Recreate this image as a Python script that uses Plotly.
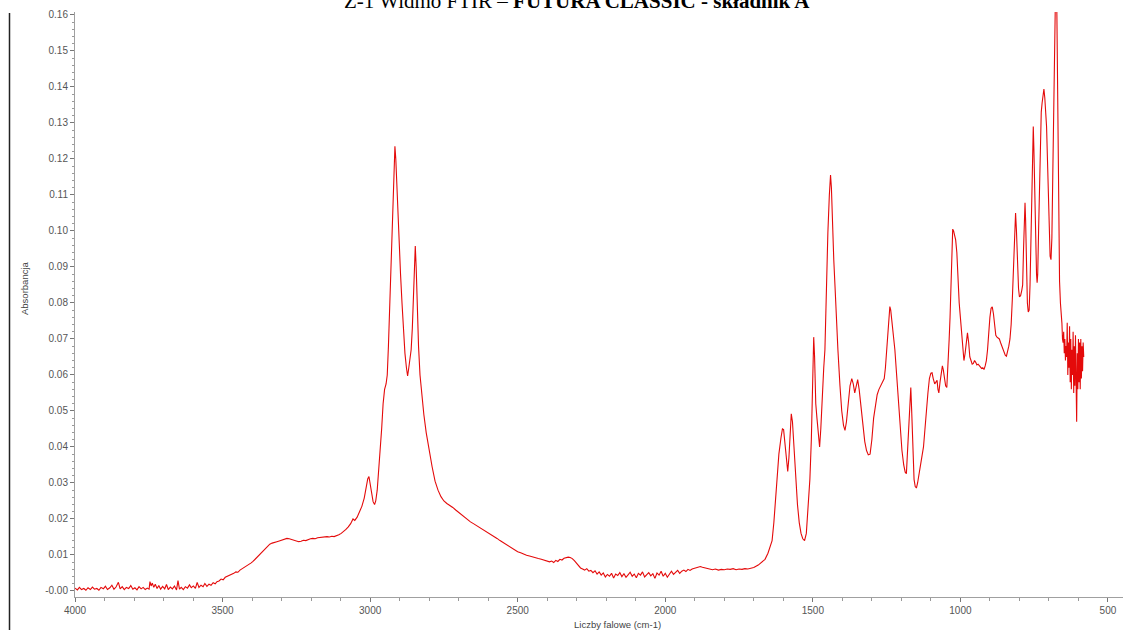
import plotly.graph_objects as go

# ---- data (wavenumber cm-1, absorbance) ----
wavenumber = [
    4000, 3992, 3985, 3978, 3970, 3963, 3956, 3948, 3941, 3934, 3926, 3919, 3912, 3904, 3897, 3890,
    3882, 3875, 3868, 3861, 3853, 3847, 3840, 3833, 3826, 3818, 3811, 3804, 3797, 3790, 3783, 3776,
    3769, 3762, 3755, 3749, 3746, 3742, 3738, 3733, 3728, 3722, 3716, 3710, 3703, 3696, 3690, 3684,
    3677, 3670, 3663, 3656, 3651, 3646, 3640, 3633, 3626, 3619, 3612, 3606, 3599, 3592, 3586, 3580,
    3573, 3566, 3560, 3553, 3546, 3539, 3532, 3525, 3519, 3512, 3505, 3498, 3491, 3485, 3478, 3470,
    3462, 3455, 3448, 3441, 3433, 3425, 3418, 3410, 3403, 3397, 3389, 3381, 3373, 3365, 3357, 3349,
    3340, 3332, 3324, 3316, 3308, 3299, 3290, 3282, 3274, 3266, 3258, 3250, 3242, 3234, 3226, 3218,
    3210, 3202, 3194, 3186, 3178, 3170, 3162, 3154, 3146, 3138, 3130, 3122, 3114, 3106, 3098, 3090,
    3082, 3074, 3066, 3058, 3052, 3044, 3036, 3028, 3020, 3013, 3008, 3004, 3000, 2995, 2990, 2985,
    2981, 2976, 2971, 2966, 2961, 2956, 2951, 2946, 2942, 2938, 2934, 2930, 2926, 2922, 2919, 2916,
    2913, 2910, 2906, 2902, 2897, 2892, 2887, 2882, 2877, 2873, 2869, 2865, 2861, 2857, 2853, 2850,
    2847, 2844, 2840, 2836, 2831, 2825, 2818, 2810, 2800, 2790, 2780, 2770, 2760, 2750, 2740, 2730,
    2720, 2710, 2700, 2690, 2680, 2670, 2660, 2650, 2640, 2630, 2620, 2610, 2600, 2590, 2580, 2570,
    2560, 2550, 2540, 2530, 2520, 2510, 2500, 2490, 2480, 2470, 2460, 2450, 2440, 2430, 2420, 2410,
    2400, 2392, 2385, 2378, 2371, 2364, 2357, 2350, 2343, 2336, 2329, 2322, 2315, 2308, 2301, 2294,
    2287, 2280, 2273, 2266, 2259, 2252, 2245, 2238, 2231, 2224, 2217, 2210, 2203, 2196, 2189, 2182,
    2175, 2168, 2161, 2154, 2147, 2140, 2133, 2126, 2119, 2112, 2105, 2098, 2091, 2084, 2077, 2070,
    2063, 2056, 2049, 2042, 2035, 2028, 2021, 2014, 2007, 2000, 1993, 1986, 1979, 1972, 1965, 1958,
    1951, 1944, 1937, 1930, 1923, 1916, 1909, 1902, 1895, 1888, 1881, 1874, 1867, 1860, 1850, 1840,
    1830, 1820, 1810, 1800, 1790, 1780, 1770, 1760, 1750, 1740, 1730, 1720, 1710, 1700, 1685, 1672,
    1662, 1652, 1645, 1638, 1632, 1627, 1621, 1615, 1608, 1603, 1599, 1595, 1590, 1585, 1581, 1577,
    1573, 1569, 1564, 1558, 1552, 1546, 1540, 1534, 1528, 1522, 1516, 1510, 1505, 1501, 1497, 1494,
    1490, 1486, 1482, 1477, 1473, 1468, 1463, 1459, 1454, 1449, 1444, 1440, 1437, 1433, 1429, 1425,
    1420, 1415, 1408, 1402, 1396, 1391, 1386, 1380, 1374, 1368, 1363, 1358, 1353, 1348, 1343, 1336,
    1330, 1324, 1318, 1312, 1306, 1300, 1294, 1288, 1282, 1276, 1270, 1264, 1258, 1254, 1250, 1246,
    1242, 1239, 1236, 1232, 1227, 1222, 1216, 1210, 1204, 1198, 1192, 1187, 1183, 1179, 1175, 1171,
    1168, 1165, 1161, 1157, 1153, 1149, 1145, 1140, 1135, 1130, 1125, 1120, 1115, 1110, 1105, 1100,
    1096, 1092, 1087, 1083, 1079, 1076, 1073, 1069, 1065, 1061, 1058, 1054, 1050, 1046, 1042, 1038,
    1035, 1032, 1029, 1026, 1023, 1020, 1016, 1012, 1008, 1004, 1000, 996, 992, 988, 984, 980,
    976, 972, 968, 964, 960, 956, 952, 948, 944, 940, 936, 932, 928, 924, 920, 916,
    912, 908, 904, 900, 896, 892, 888, 884, 880, 876, 872, 868, 864, 860, 856, 852,
    848, 844, 840, 836, 832, 828, 824, 820, 816, 813, 810, 806, 803, 800, 796, 792,
    789, 786, 783, 781, 779, 776, 773, 770, 767, 764, 761, 758, 755, 753, 751, 748,
    745, 742, 740, 738, 735, 732, 729, 726, 723, 720, 717, 714, 711, 708, 705, 702,
    699, 696, 693, 690, 687, 684, 681, 678, 676, 673, 670, 667, 664, 661, 658, 656,
    654, 652, 650, 648, 646, 644, 642, 640, 638, 636, 634, 632, 630, 628, 626, 624,
    622, 620, 618, 616, 614, 612, 610, 608, 606, 604, 602, 600, 598, 596, 594, 592,
    590, 588, 586, 584, 582,
]

absorbance = [
    0.0008, 0.0003, 0.0010, 0.0004, 0.0007, 0.0002, 0.0009, 0.0004, 0.0011, 0.0005, 0.0007, 0.0002, 0.0010, 0.0006, 0.0013, 0.0004,
    0.0009, 0.0016, 0.0005, 0.0011, 0.0024, 0.0006, 0.0012, 0.0004, 0.0010, 0.0007, 0.0015, 0.0005, 0.0009, 0.0003, 0.0012, 0.0006,
    0.0010, 0.0004, 0.0008, 0.0005, 0.0026, 0.0014, 0.0022, 0.0010, 0.0019, 0.0007, 0.0015, 0.0005, 0.0013, 0.0006, 0.0018, 0.0004,
    0.0011, 0.0006, 0.0014, 0.0003, 0.0029, 0.0005, 0.0010, 0.0004, 0.0012, 0.0008, 0.0017, 0.0009, 0.0014, 0.0007, 0.0024, 0.0010,
    0.0016, 0.0012, 0.0021, 0.0013, 0.0019, 0.0016, 0.0023, 0.0020, 0.0026, 0.0028, 0.0033, 0.0031, 0.0038, 0.0040, 0.0043, 0.0046,
    0.0049, 0.0053, 0.0052, 0.0058, 0.0062, 0.0066, 0.0069, 0.0074, 0.0078, 0.0082, 0.0089, 0.0096, 0.0104, 0.0111, 0.0118, 0.0124,
    0.0130, 0.0133, 0.0134, 0.0137, 0.0139, 0.0142, 0.0145, 0.0146, 0.0145, 0.0143, 0.0141, 0.0139, 0.0137, 0.0138, 0.0141, 0.0140,
    0.0143, 0.0145, 0.0146, 0.0145, 0.0148, 0.0149, 0.0148, 0.0150, 0.0151, 0.0150, 0.0152, 0.0151, 0.0153, 0.0156, 0.0160, 0.0165,
    0.0171, 0.0178, 0.0187, 0.0200, 0.0196, 0.0205, 0.0218, 0.0235, 0.0258, 0.0290, 0.0312, 0.0318, 0.0300, 0.0270, 0.0248, 0.0240,
    0.0250, 0.0280, 0.0330, 0.0390, 0.0450, 0.0520, 0.0560, 0.0575, 0.0600, 0.0680, 0.0780, 0.0880, 0.1000, 0.1130, 0.1210, 0.1235,
    0.1200, 0.1130, 0.1050, 0.0960, 0.0880, 0.0800, 0.0720, 0.0660, 0.0620, 0.0597, 0.0620, 0.0640, 0.0670, 0.0730, 0.0850, 0.0940,
    0.0958, 0.0900, 0.0780, 0.0680, 0.0600, 0.0540, 0.0490, 0.0440, 0.0390, 0.0345, 0.0305, 0.0280, 0.0262, 0.0250, 0.0243, 0.0238,
    0.0232, 0.0225, 0.0218, 0.0211, 0.0205, 0.0198, 0.0192, 0.0187, 0.0182, 0.0177, 0.0172, 0.0168, 0.0163, 0.0157, 0.0151, 0.0146,
    0.0140, 0.0135, 0.0130, 0.0124, 0.0118, 0.0113, 0.0109, 0.0106, 0.0102, 0.0099, 0.0097, 0.0094, 0.0092, 0.0090, 0.0088, 0.0086,
    0.0084, 0.0081, 0.0083, 0.0079, 0.0085, 0.0082, 0.0088, 0.0086, 0.0091, 0.0093, 0.0094, 0.0093, 0.0090, 0.0084, 0.0077, 0.0069,
    0.0064, 0.0061, 0.0058, 0.0062, 0.0055, 0.0057, 0.0051, 0.0056, 0.0047, 0.0053, 0.0044, 0.0050, 0.0039, 0.0046, 0.0041, 0.0049,
    0.0036, 0.0047, 0.0043, 0.0051, 0.0040, 0.0048, 0.0038, 0.0045, 0.0052, 0.0041, 0.0047, 0.0037, 0.0049, 0.0044, 0.0053, 0.0039,
    0.0046, 0.0051, 0.0042, 0.0048, 0.0035, 0.0050, 0.0044, 0.0055, 0.0041, 0.0049, 0.0038, 0.0047, 0.0055, 0.0046, 0.0052, 0.0057,
    0.0049, 0.0055, 0.0058, 0.0054, 0.0060, 0.0057, 0.0061, 0.0063, 0.0065, 0.0067, 0.0068, 0.0066, 0.0064, 0.0062, 0.0061, 0.0059,
    0.0061, 0.0058, 0.0060, 0.0059, 0.0061, 0.0060, 0.0062, 0.0059, 0.0061, 0.0060, 0.0062, 0.0061, 0.0063, 0.0065, 0.0072, 0.0080,
    0.0088, 0.0105, 0.0120, 0.0140, 0.0190, 0.0250, 0.0330, 0.0380, 0.0425, 0.0450, 0.0448, 0.0410, 0.0360, 0.0332, 0.0370, 0.0440,
    0.0492, 0.0470, 0.0400, 0.0310, 0.0240, 0.0190, 0.0160, 0.0145, 0.0140, 0.0160, 0.0240, 0.0310, 0.0420, 0.0560, 0.0705, 0.0650,
    0.0520, 0.0480, 0.0440, 0.0400, 0.0450, 0.0550, 0.0620, 0.0670, 0.0850, 0.0995, 0.1100, 0.1155, 0.1120, 0.1000, 0.0920, 0.0850,
    0.0740, 0.0670, 0.0570, 0.0500, 0.0460, 0.0446, 0.0470, 0.0530, 0.0570, 0.0590, 0.0575, 0.0550, 0.0570, 0.0587, 0.0560, 0.0500,
    0.0450, 0.0415, 0.0390, 0.0378, 0.0380, 0.0420, 0.0480, 0.0520, 0.0545, 0.0560, 0.0570, 0.0580, 0.0590, 0.0620, 0.0670, 0.0730,
    0.0775, 0.0790, 0.0780, 0.0750, 0.0710, 0.0670, 0.0600, 0.0520, 0.0450, 0.0390, 0.0350, 0.0330, 0.0326, 0.0400, 0.0480, 0.0540,
    0.0565, 0.0500, 0.0380, 0.0310, 0.0290, 0.0286, 0.0300, 0.0330, 0.0360, 0.0375, 0.0400, 0.0440, 0.0500, 0.0550, 0.0590, 0.0605,
    0.0606, 0.0590, 0.0575, 0.0580, 0.0585, 0.0560, 0.0550, 0.0580, 0.0610, 0.0625, 0.0615, 0.0590, 0.0570, 0.0565, 0.0620, 0.0700,
    0.0760, 0.0850, 0.0950, 0.1005, 0.1000, 0.0985, 0.0975, 0.0940, 0.0860, 0.0800, 0.0760, 0.0720, 0.0670, 0.0640, 0.0660, 0.0700,
    0.0717, 0.0690, 0.0650, 0.0640, 0.0630, 0.0632, 0.0640, 0.0635, 0.0628, 0.0630, 0.0625, 0.0622, 0.0618, 0.0620, 0.0615, 0.0625,
    0.0640, 0.0670, 0.0720, 0.0760, 0.0785, 0.0789, 0.0770, 0.0735, 0.0710, 0.0705, 0.0702, 0.0700, 0.0690, 0.0680, 0.0670, 0.0660,
    0.0655, 0.0652, 0.0665, 0.0680, 0.0700, 0.0740, 0.0810, 0.0900, 0.1000, 0.1050, 0.1000, 0.0900, 0.0840, 0.0817, 0.0820, 0.0835,
    0.0850, 0.0950, 0.1050, 0.1078, 0.1030, 0.0900, 0.0800, 0.0775, 0.0780, 0.0850, 0.0980, 0.1150, 0.1280, 0.1290, 0.1230, 0.1080,
    0.0950, 0.0880, 0.0856, 0.0880, 0.1000, 0.1150, 0.1260, 0.1330, 0.1356, 0.1370, 0.1394, 0.1370, 0.1330, 0.1290, 0.1200, 0.1080,
    0.0980, 0.0930, 0.0920, 0.0980, 0.1150, 0.1380, 0.1600, 0.1750, 0.1760, 0.1600, 0.1330, 0.1050, 0.0860, 0.0800, 0.0770, 0.0744,
    0.0700, 0.0690, 0.0720, 0.0660, 0.0700, 0.0640, 0.0680, 0.0650, 0.0745, 0.0600, 0.0690, 0.0620, 0.0735, 0.0580, 0.0700, 0.0560,
    0.0670, 0.0600, 0.0720, 0.0550, 0.0680, 0.0570, 0.0710, 0.0530, 0.0470, 0.0660, 0.0560, 0.0700, 0.0580, 0.0690, 0.0560, 0.0700,
    0.0590, 0.0680, 0.0610, 0.0690, 0.0650,
]

y_tick_vals = [i / 100 for i in range(17)]
y_tick_text = ["-0.00"] + ["%.2f" % (i / 100) for i in range(1, 17)]
x_tick_vals = [4000, 3500, 3000, 2500, 2000, 1500, 1000, 500]

title_plain = "Z-1 Widmo FTIR – "
title_bold = "FUTURA CLASSIC - składnik A"
x_title = "Liczby falowe (cm-1)"
y_title = "Absorbancja"

W, H = 1130, 630
L, R, T, B = 75, 7, 12, 33
pw = W - L - R
ph = H - T - B

fig = go.Figure()
fig.add_trace(go.Scatter(
    x=wavenumber, y=absorbance, mode="lines",
    line=dict(color="rgb(228,10,10)", width=1.1),
    hoverinfo="skip", showlegend=False,
))

tickfont = dict(family="Liberation Sans, Arial, sans-serif", size=10, color="#555555")

fig.update_layout(
    width=W, height=H,
    margin=dict(l=L, r=R, t=T, b=B, pad=0),
    paper_bgcolor="white", plot_bgcolor="white",
    showlegend=False,
    xaxis=dict(
        range=[4000, 449], showgrid=False, zeroline=False,
        showline=True, linecolor="#a0a0a0", linewidth=1,
        ticks="outside", ticklen=4, tickcolor="#777777",
        tickvals=x_tick_vals, ticktext=[str(v) for v in x_tick_vals],
        tickfont=tickfont,
        minor=dict(dtick=100, tick0=0, ticks="outside", ticklen=3, tickcolor="#999999"),
    ),
    yaxis=dict(
        range=[-0.00167, 0.1608], showgrid=False, zeroline=False,
        showline=True, linecolor="#a0a0a0", linewidth=1,
        ticks="outside", ticklen=4, tickcolor="#777777",
        tickvals=y_tick_vals, ticktext=y_tick_text,
        tickfont=tickfont,
        minor=dict(dtick=0.002, tick0=0, ticks="outside", ticklen=2, tickcolor="#999999"),
    ),
)

def px_x(px):
    return (px - L) / pw

def px_y(py):
    return (H - B - py) / ph

fig.add_annotation(
    x=px_x(577), y=px_y(1), xref="paper", yref="paper",
    xanchor="center", yanchor="middle", showarrow=False,
    text=title_plain + "<b>" + title_bold + "</b>",
    font=dict(family="Liberation Serif, Times New Roman, serif", size=21, color="#000000"),
)
fig.add_annotation(
    x=px_x(617), y=px_y(624), xref="paper", yref="paper",
    xanchor="center", yanchor="middle", showarrow=False,
    text=x_title, font=dict(family="Liberation Sans, Arial, sans-serif", size=9.5, color="#444444"),
)
fig.add_annotation(
    x=px_x(24), y=px_y(288), xref="paper", yref="paper",
    xanchor="center", yanchor="middle", showarrow=False, textangle=-90,
    text=y_title, font=dict(family="Liberation Sans, Arial, sans-serif", size=9.5, color="#444444"),
)
# left border of the scanned frame
fig.add_shape(type="line", xref="paper", yref="paper",
              x0=px_x(9.5), x1=px_x(9.5), y0=px_y(13), y1=px_y(630),
              line=dict(color="#222222", width=1.5))

fig.write_html("out.html")
